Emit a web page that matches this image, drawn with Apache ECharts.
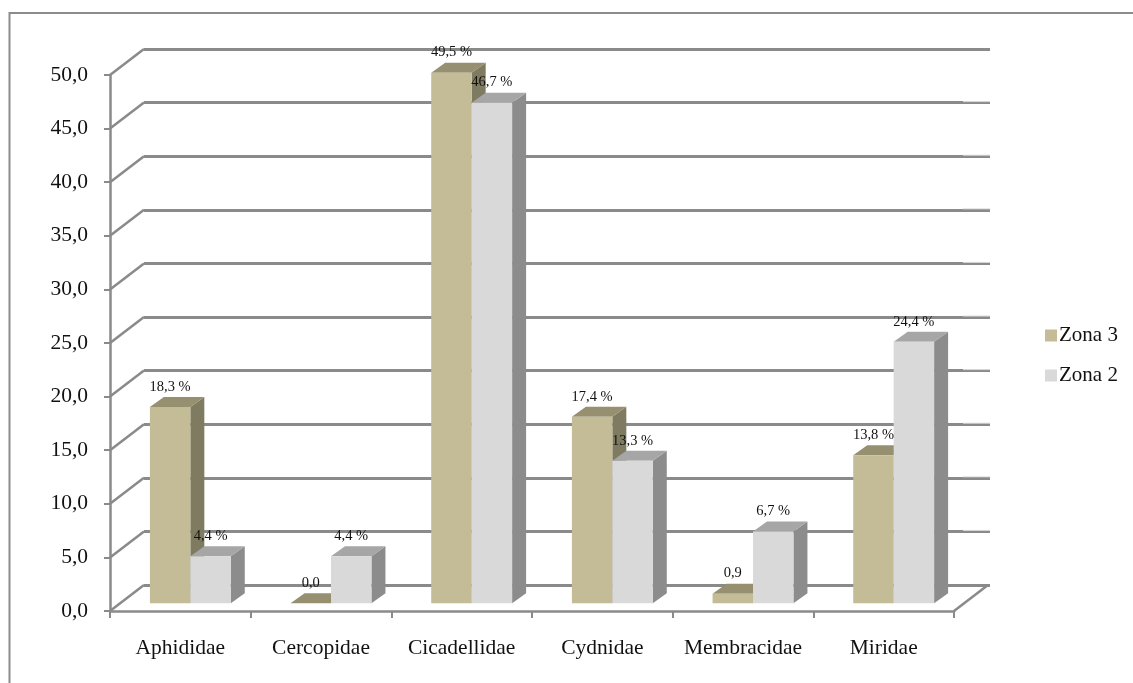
<!DOCTYPE html>
<html>
<head>
<meta charset="utf-8">
<title>Familias por zona</title>
<style>
  html, body { margin: 0; padding: 0; background: #fff; }
  #chart { width: 1133px; height: 683px; }
</style>
<script src="https://cdn.jsdelivr.net/npm/echarts@6/dist/echarts.min.js"></script>
</head>
<body>
<div id="chart"></div>
<script>
const categories = ['Aphididae', 'Cercopidae', 'Cicadellidae', 'Cydnidae', 'Membracidae', 'Miridae'];
const zona3 = [18.3, 0.0, 49.5, 17.4, 0.9, 13.8];
const zona2 = [4.4, 4.4, 46.7, 13.3, 6.7, 24.4];
const zona3Labels = ['18,3 %', '0,0', '49,5 %', '17,4 %', '0,9', '13,8 %'];
const zona2Labels = ['4,4 %', '4,4 %', '46,7 %', '13,3 %', '6,7 %', '24,4 %'];
const yTicks = [0, 5, 10, 15, 20, 25, 30, 35, 40, 45, 50];

const LINE = '#8a8a8a';
const SERIF = '"Liberation Serif", "Times New Roman", serif';

// Pseudo-3D offsets, in pixels: back wall, bar row, bar thickness.
const WALL = { dx: 34, dy: 26 };
const ROW = { dx: 10, dy: 7.7 };
const THICK = { dx: 14, dy: 10 };

const COLORS = {
  tan: { front: '#c4bc96', side: '#7f7b60', top: '#968f70' },
  grey: { front: '#d9d9d9', side: '#8c8c8c', top: '#a6a6a6' }
};

function poly(points, fill) {
  return { type: 'polygon', shape: { points }, style: { fill, stroke: null } };
}

// One box: front face, side and lid, plus its label on top of everything.
function barRenderer(palette, labels, side) {
  return function (params, api) {
    const idx = api.value(0);
    const band = api.size([1, 0])[0];
    const w = band * 0.2875;
    const top = api.coord([idx, api.value(1)]);
    const base = api.coord([idx, 0]);
    const x0 = top[0] + ROW.dx + (side < 0 ? -w : 0);
    const x1 = x0 + w;
    const yT = top[1] - ROW.dy;
    const yB = base[1] - ROW.dy;
    const d = THICK;
    return {
      type: 'group',
      children: [
        poly([[x1, yT], [x1 + d.dx, yT - d.dy], [x1 + d.dx, yB - d.dy], [x1, yB]], palette.side),
        poly([[x0, yT], [x0 + d.dx, yT - d.dy], [x1 + d.dx, yT - d.dy], [x1, yT]], palette.top),
        { type: 'rect', shape: { x: x0, y: yT, width: w, height: yB - yT }, style: { fill: palette.front } },
        {
          type: 'text', z2: 100,
          style: {
            x: (x0 + x1) / 2, y: yT - 20, text: labels[idx],
            fill: '#111', font: '14.5px ' + SERIF, align: 'center', verticalAlign: 'middle'
          }
        }
      ]
    };
  };
}

// Slanted edges joining the front axes to the back wall, and the paler
// upper edge on the stretch of each wall line past the plot's right side.
function edgeRenderer(params, api) {
  const cs = params.coordSys;
  const v = api.value(0);
  const y = api.coord([0, v])[1];
  const right = cs.x + cs.width;
  const starts = [cs.x];
  if (v === 0) starts.push(right);
  const children = starts.map(x => ({
    type: 'line',
    shape: { x1: x, y1: y, x2: x + WALL.dx, y2: y - WALL.dy },
    style: { stroke: LINE, lineWidth: 2.5 }
  }));
  if (v !== 50 && v !== 0) {
    children.push({
      type: 'line',
      shape: { x1: right + 9, y1: y - WALL.dy - 1, x2: right + WALL.dx + 2, y2: y - WALL.dy - 1 },
      style: { stroke: '#dedede', lineWidth: 1 }
    });
  }
  return { type: 'group', children };
}

const chart = echarts.init(document.getElementById('chart'));
chart.setOption({
  animation: false,
  backgroundColor: '#ffffff',
  graphic: [
    { type: 'polyline', shape: { points: [[9.5, 683], [9.5, 13], [1133, 13]] }, style: { stroke: '#8c8c8c', lineWidth: 2, fill: null } }
  ],
  legend: {
    orient: 'vertical', left: 1045, top: 325, padding: 0, itemWidth: 12, itemHeight: 12, itemGap: 19,
    icon: 'rect',
    data: ['Zona 3', 'Zona 2'],
    textStyle: { fontFamily: SERIF, fontSize: 21, color: '#111', padding: [0, 0, 0, -3] }
  },
  grid: [
    { left: 110, top: 75, width: 844, height: 536 },
    { left: 144, top: 49, width: 846, height: 536 }
  ],
  xAxis: [
    {
      type: 'category', gridIndex: 0, data: categories,
      axisLine: { lineStyle: { color: LINE, width: 2.5 } },
      axisTick: { show: true, length: 7, lineStyle: { color: LINE, width: 2 } },
      axisLabel: { fontFamily: SERIF, fontSize: 21.5, color: '#111', margin: 26, interval: 0 }
    },
    { type: 'category', gridIndex: 1, data: categories, show: false }
  ],
  yAxis: [
    {
      type: 'value', gridIndex: 0, min: 0, max: 50, interval: 5,
      splitLine: { show: false },
      axisLine: { show: true, lineStyle: { color: LINE, width: 2.5 } },
      axisTick: { show: true, length: 6, lineStyle: { color: LINE, width: 2 } },
      axisLabel: {
        fontFamily: SERIF, fontSize: 21.5, color: '#111', margin: 22, padding: [2, 0, 0, 0],
        formatter: v => v.toFixed(1).replace('.', ',')
      }
    },
    {
      type: 'value', gridIndex: 1, min: 0, max: 50, interval: 5,
      axisLine: { show: false }, axisTick: { show: false }, axisLabel: { show: false },
      splitLine: { show: true, lineStyle: { color: LINE, width: 3 } }
    }
  ],
  series: [
    {
      type: 'custom', name: 'edges', xAxisIndex: 0, yAxisIndex: 0, silent: true, clip: false, z: 1,
      data: yTicks.map(v => [v]), encode: { y: 0 }, renderItem: edgeRenderer
    },
    {
      type: 'custom', name: 'Zona 3', xAxisIndex: 0, yAxisIndex: 0, clip: false, z: 3,
      itemStyle: { color: COLORS.tan.front },
      data: zona3.map((v, i) => [i, v]), encode: { x: 0, y: 1 },
      renderItem: barRenderer(COLORS.tan, zona3Labels, -1)
    },
    {
      type: 'custom', name: 'Zona 2', xAxisIndex: 0, yAxisIndex: 0, clip: false, z: 3,
      itemStyle: { color: COLORS.grey.front },
      data: zona2.map((v, i) => [i, v]), encode: { x: 0, y: 1 },
      renderItem: barRenderer(COLORS.grey, zona2Labels, 1)
    }
  ]
});
</script>
</body>
</html>
